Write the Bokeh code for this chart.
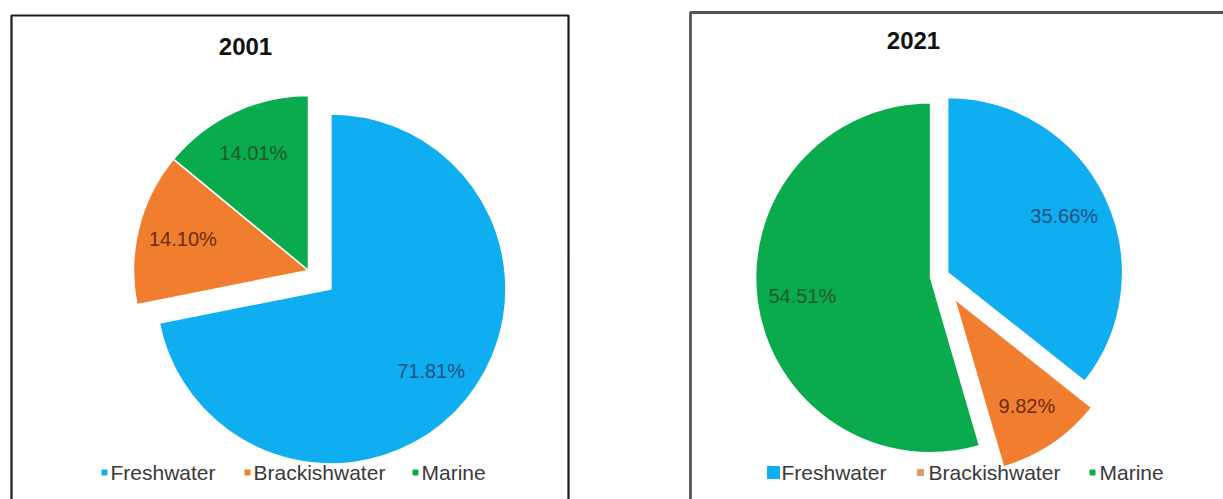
import numpy as np
from bokeh.plotting import figure
from bokeh.models import ColumnDataSource, Range1d
from bokeh.core.properties import value
from bokeh.embed import file_html
from bokeh.resources import INLINE

# ---------------- data ----------------
categories = ["Freshwater", "Brackishwater", "Marine"]
years = ["2001", "2021"]
share_2001 = [71.81, 14.10, 14.01]
share_2021 = [35.66, 9.82, 54.51]
slice_colors = ["#0eaef0", "#f07e2e", "#0aab4c"]
label_colors = ["#1f4f86", "#6b2c0c", "#1b5a2b"]

W, H = 1223, 499
FONT = "Liberation Sans"

p = figure(width=W, height=H, x_range=Range1d(0, W), y_range=Range1d(0, H),
           x_axis_type=None, y_axis_type=None, output_backend="svg",
           toolbar_location=None, min_border=0)
p.outline_line_color = None
p.background_fill_color = "white"
p.border_fill_color = "white"
p.grid.visible = False


def sy(y):
    # convert a screen-like y (from top) to data y
    return H - y


# panel frames
p.quad(left=[11], right=[568], top=[sy(15)], bottom=[-20],
       fill_color=None, line_color="#1c1c1c", line_width=2.2)
p.quad(left=[690], right=[1260], top=[sy(12)], bottom=[-20],
       fill_color=None, line_color="#555555", line_width=2.8)


def add_pie(values, cx, cy, r, explode):
    vals = np.array(values, dtype=float)
    frac = vals / vals.sum()
    t1 = np.cumsum(frac) * 2 * np.pi
    t0 = t1 - frac * 2 * np.pi
    mid = (t0 + t1) / 2
    ex = np.array(explode, dtype=float)
    ox = cx + ex * np.sin(mid)
    oy = cy + ex * np.cos(mid)
    src = ColumnDataSource(dict(
        x=ox, y=oy,
        start=np.pi / 2 - t1, end=np.pi / 2 - t0,
        color=slice_colors,
    ))
    p.wedge(x="x", y="y", radius=r, start_angle="start", end_angle="end",
            fill_color="color", line_color="white", line_width=1.5, source=src)
    lsrc = ColumnDataSource(dict(
        x=ox + 0.74 * r * np.sin(mid),
        y=oy + 0.74 * r * np.cos(mid),
        text=[f"{v:.2f}%" for v in values],
        color=label_colors,
    ))
    p.text(x="x", y="y", text="text", text_color="color", source=lsrc,
           text_font=value(FONT), text_font_size="20px",
           text_align="center", text_baseline="middle")


add_pie(share_2001, 308, sy(270), 175, [29, 0, 0])
add_pie(share_2021, 939, sy(276), 175, [9, 27, 9])

# titles
p.text(x=[245, 913], y=[sy(46), sy(40)], text=years,
       text_font=value(FONT), text_font_size="24px", text_font_style="bold",
       text_color="#111111", text_align="center", text_baseline="middle")

# legends
leg_y = sy(472)
p.scatter(x=[104, 247, 415], y=[leg_y] * 3, marker="square", size=5,
          color=slice_colors)
p.text(x=[110, 253, 421], y=[leg_y] * 3, text=categories,
       text_font=value(FONT), text_font_size="21px", text_color="#3a3a3a",
       text_align="left", text_baseline="middle")

p.scatter(x=[773, 920, 1092], y=[leg_y] * 3, marker="square", size=[12, 6, 5],
          color=[slice_colors[0], "#e0956a", slice_colors[2]])
p.text(x=[781, 928, 1099], y=[leg_y] * 3, text=categories,
       text_font=value(FONT), text_font_size="21px", text_color="#3a3a3a",
       text_align="left", text_baseline="middle")

open("out.html", "w").write(file_html(p, INLINE))
